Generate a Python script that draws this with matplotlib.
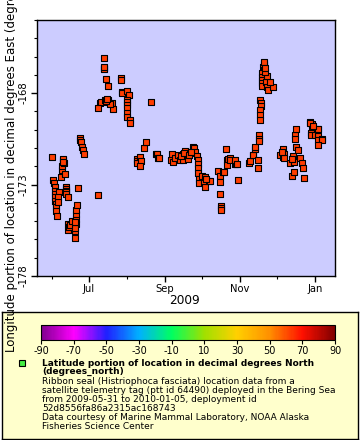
import numpy as np
import pandas as pd
import matplotlib
matplotlib.use("Agg")
import matplotlib.pyplot as plt
import matplotlib.dates as mdates
from matplotlib.colors import LinearSegmentedColormap, Normalize
from matplotlib.cm import ScalarMappable

plt.rcParams["axes.unicode_minus"] = False

# days since 2009-06-01 and longitude (deg East)
days = [
    # early June
    -0.2, 1.1, 1.6, 2.4, 2.4, 2.4, 2.4, 2.4, 2.9, 3.3, 3.0, 4.1, 5.7, 4.6, 5.1,
    7.1, 7.9, 8.4, 9.5, 10.3, 9.0, 8.8, 9.3, 11.2, 11.2, 11.2, 11.2, 11.2, 12.8,
    # low cluster mid June
    12.8, 13.3, 13.8, 14.7, 16.3, 18.7, 18.5, 19.3, 19.3, 19.5, 19.5, 20.1, 19.1, 18.9,
    21.2, 37.2,
    # start of July
    22.8, 22.8, 23.6, 24.7, 25.5, 26.0,
    # mid July
    42.3, 42.3, 42.6, 42.1, 43.9, 45.3, 39.1, 39.9, 37.2, 43.1, 45.3, 45.6, 48.6,
    49.4, 47.2, 44.0, 44.6,
    55.9, 55.9, 57.0, 56.6,
    60.8, 62.7, 61.0, 61.0, 61.0, 61.0, 61.0, 61.0, 63.5, 63.5,
    80.6, 74.6, 76.2,
    # August
    69.4, 69.4, 69.4, 71.6, 72.4, 71.6,
    84.6, 85.7, 86.5, 87.1,
    96.6, 97.6, 98.2,
    # September
    100.1, 102.8, 104.2, 106.4, 106.6, 108.2, 109.9, 110.9, 112.3, 114.5, 115.0,
    115.6, 116.4, 117.7, 118.6, 118.6, 119.0, 119.0, 119.9, 119.9, 121.8, 123.7,
    124.5, 124.5, 128.0, 128.6, 125.3, 105.0, 107.5, 111.5, 113.5,
    # October
    135.3, 136.7, 136.5, 136.5, 137.3, 137.3, 137.5, 138.9, 140.0, 141.6, 142.2,
    142.2, 143.5, 144.8, 144.8, 148.9, 149.7, 151.4,
    # November
    148.9, 150.3, 160.6, 161.1, 163.3, 163.3, 165.2, 165.2, 167.9, 167.4, 168.4,
    168.4, 168.4, 169.3, 169.7, 169.8, 169.3, 169.3, 169.3,
    172.8, 172.8, 171.7, 172.8, 170.6, 170.6, 170.6, 170.6, 171.1, 174.1, 174.7,
    176.0, 179.6, 177.4, 174.9, 173.3, 172.2, 173.0,
    # December
    185.5, 188.2, 188.2, 188.8, 188.8, 193.7, 195.0, 196.3, 196.9, 196.9, 197.7,
    197.7, 198.3, 198.5, 200.4, 201.8, 203.2, 204.0, 205.1, 187.5, 195.5,
    # late December / January
    209.9, 211.3, 211.6, 214.0, 216.2, 216.7, 210.5, 210.8, 214.0, 216.7, 216.7,
    219.5, 219.5, 216.2, 210.2, 212.5,
]
lon = [
    -171.50, -172.74, -172.91, -173.15, -173.33, -173.51, -173.70, -173.88, -174.04,
    -174.21, -174.43, -174.70, -173.42, -173.70, -173.97,
    -172.60, -172.18, -171.99, -171.81, -172.41, -171.68, -171.60, -171.75, -173.15,
    -173.25, -173.33, -173.42, -173.51, -173.70,
    -175.49, -175.16, -175.31, -175.20, -174.98, -175.53, -175.90, -175.16, -174.89,
    -174.61, -174.39, -174.10, -175.36, -175.05,
    -173.20, -173.55,
    -170.47, -170.56, -170.68, -170.95, -171.13, -171.34,
    -166.06, -166.63, -166.70, -166.55, -167.21, -167.60, -168.53, -168.48, -168.79,
    -168.38, -168.35, -168.49, -168.55, -168.86, -168.60, -168.42, -168.30,
    -167.18, -167.29, -167.93, -168.00,
    -167.87, -168.11, -168.35, -168.49, -168.66, -168.82, -169.06, -169.30, -169.48,
    -169.63,
    -168.48, -171.01, -170.68,
    -171.59, -171.71, -171.83, -171.50, -171.72, -171.96,
    -171.35, -171.31, -171.53, -171.56,
    -171.68, -171.35, -171.78,
    -171.52, -171.41, -171.68, -171.68, -171.35, -171.19, -171.46, -171.59, -171.30,
    -171.09, -170.95, -171.02, -171.24, -171.45, -171.68, -171.86, -172.12, -172.36,
    -172.67, -172.91, -172.51, -172.87, -172.56, -173.15, -172.78, -172.78, -172.67,
    -171.45, -171.30, -171.40, -171.20,
    -172.27, -172.51, -172.87, -173.53, -174.18, -174.29, -174.39, -172.32, -172.29,
    -171.08, -171.68, -171.92, -171.59, -171.53, -171.68, -171.86, -171.90, -172.76,
    -171.64, -171.86, -171.81, -171.72, -171.41, -171.37, -171.04, -170.95, -171.68,
    -172.08, -170.31, -170.49, -170.62, -168.38, -168.55, -168.70, -168.93, -169.21,
    -169.48,
    -166.37, -166.46, -166.57, -166.74, -166.92, -167.10, -167.29, -167.47, -167.62,
    -167.38, -167.65, -167.84, -167.65, -167.38, -167.07, -166.85, -166.30, -166.60,
    -171.41, -171.08, -171.50, -171.31, -171.56, -171.83, -172.54, -171.45, -171.78,
    -172.29, -170.31, -170.53, -169.98, -170.95, -171.13, -171.53, -171.83, -172.10,
    -172.65, -171.20, -171.60,
    -169.58, -169.85, -169.70, -169.94, -169.98, -169.98, -170.20, -170.31, -170.31,
    -170.36, -170.58, -170.49, -170.58, -170.82, -169.65, -169.80,
]

cbar_ticks = [-90, -70, -50, -30, -10, 10, 30, 50, 70, 90]
cbar_colors = ["#80008f", "#ff00ff", "#2020ff", "#00b0ff", "#00ff60",
               "#a0e000", "#ffd000", "#ff9000", "#ff1000", "#800000"]

dates = pd.Timestamp("2009-06-01") + pd.to_timedelta(np.array(days), unit="D")

W, H = 360, 440
fig = plt.figure(figsize=(W / 100, H / 100), dpi=100)

ax = fig.add_axes([37 / W, 1 - 276 / H, 298 / W, 256 / H])
ax.set_facecolor("#ccccff")
ax.scatter(dates, lon, marker="s", s=22, facecolor="#ff3d00",
           edgecolor="black", linewidths=0.8, zorder=3)

ax.set_xlim(pd.Timestamp("2009-05-19 20:00"), pd.Timestamp("2010-01-17 06:00"))
ax.set_ylim(-178, -164)
ax.set_yticks([-178, -173, -168])
ax.set_yticks(np.arange(-177, -163, 1), minor=True)
ax.xaxis.set_major_locator(mdates.MonthLocator(bymonth=[1, 7, 9, 11]))
ax.xaxis.set_minor_locator(mdates.MonthLocator(bymonth=[6, 8, 10, 12]))
ax.xaxis.set_major_formatter(mdates.DateFormatter("%b"))
ax.tick_params(axis="both", which="major", length=4, width=1, labelsize=7.2,
               direction="out", pad=2)
ax.tick_params(axis="both", which="minor", length=2.5, width=0.8, direction="out")
ax.tick_params(axis="y", labelrotation=90)
for lbl in ax.get_yticklabels():
    lbl.set_va("center")
for sp in ax.spines.values():
    sp.set_linewidth(1)

fig.text(185 / W, 1 - 300 / H, "2009", ha="center", va="center", fontsize=8.7)
fig.text(12 / W, 1 - 148 / H,
         "Longitude portion of location in decimal degrees East (degrees_east)",
         rotation=90, ha="center", va="center", fontsize=8.5)

# legend box
lax = fig.add_axes([2 / W, 1 - 439 / H, 356 / W, 127 / H])
lax.set_facecolor("#ffffcc")
lax.set_xticks([])
lax.set_yticks([])
for sp in lax.spines.values():
    sp.set_linewidth(1)

cmap = LinearSegmentedColormap.from_list("lat", cbar_colors)
cax = fig.add_axes([41 / W, 1 - 340 / H, 294 / W, 15 / H])
cb = fig.colorbar(ScalarMappable(norm=Normalize(-90, 90), cmap=cmap), cax=cax,
                  orientation="horizontal", ticks=cbar_ticks)
cb.outline.set_linewidth(0.8)
cax.tick_params(labelsize=7, length=3, pad=1)

lax.plot([20 / 356], [(439 - 363) / 127], marker="s", ms=4.5, mfc="#44ee44",
         mec="black", mew=0.8, transform=lax.transAxes)

fig.text(42 / W, 1 - 367.5 / H,
         "Latitude portion of location in decimal degrees North\n(degrees_north)",
         ha="left", va="center", fontsize=6.5, fontweight="bold", linespacing=0.95)
fig.text(42 / W, 1 - 377 / H,
         "Ribbon seal (Histriophoca fasciata) location data from a\n"
         "satellite telemetry tag (ptt id 64490) deployed in the Bering Sea\n"
         "from 2009-05-31 to 2010-01-05, deployment id\n"
         "52d8556fa86a2315ac168743\n"
         "Data courtesy of Marine Mammal Laboratory, NOAA Alaska\n"
         "Fisheries Science Center",
         ha="left", va="top", fontsize=6.5, linespacing=1.0)

fig.savefig("out.png", dpi=100)
